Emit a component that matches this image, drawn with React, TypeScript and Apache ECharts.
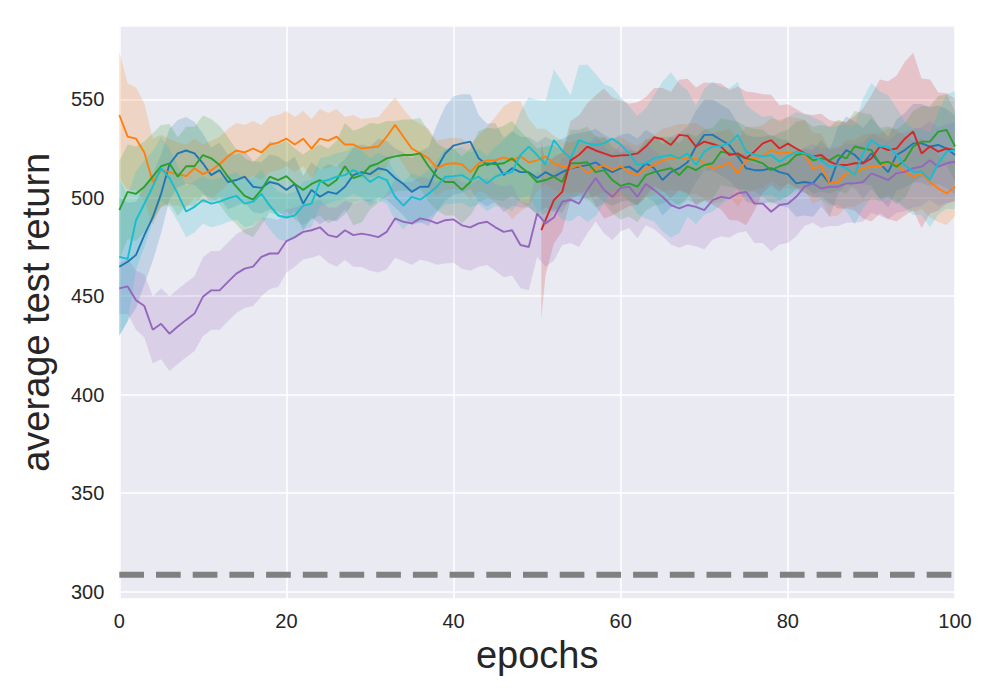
import React, { useEffect, useRef } from "react";
import * as echarts from "echarts";

// x positions: epochs 0..100
const epochs: number[] = Array.from({ length: 101 }, (_, i) => i);
const redEpochs: number[] = [50.5, ...epochs.slice(51)];

const xTicks = { min: 0, max: 100, interval: 20 };
const yRange = { min: 296.3, max: 587.4, step: 50 };
const baselineLevel = 308.6;

const blueMean = [
  465, 467.5, 471, 481, 490, 502, 517, 522.5, 524, 522.5, 517.5,
  511.5, 514, 508, 509, 510.7, 505.6, 505, 508, 507, 504,
  507, 497, 504, 500.5, 503, 502, 505.6, 511.5, 513, 512,
  515, 514, 510, 507, 503, 505.6, 505.6, 515, 522.5, 526.5,
  527.6, 528.5, 520, 516.6, 518, 511.5, 515, 513, 513, 510,
  513, 510.7, 513, 515, 515.8, 516.6, 518, 515, 513, 515,
  515.8, 513, 517.5, 515, 509, 513, 515, 518, 526, 531.9,
  531.9, 529.3, 526.8, 521, 515, 514, 514, 515, 513, 512,
  507.3, 508, 507.3, 512.4, 507.3, 519, 524.2, 521.7, 517.5, 522.5,
  517.5, 513, 521.7, 524.2, 527.6, 527.6, 526, 526.8, 525, 521.7,
];
const blueSpread = [
  35, 30, 27, 25, 22, 20, 18, 17, 17, 16, 15,
  14, 14, 14, 13, 13, 13, 13, 14, 14, 14,
  14, 14, 14, 14, 14, 14, 14, 14, 14, 14,
  15, 15, 15, 16, 17, 18, 20, 22, 24, 25,
  25, 24, 22, 21, 20, 19, 19, 18, 18, 18,
  18, 18, 17, 17, 17, 17, 17, 17, 17, 17,
  17, 17, 17, 17, 18, 18, 18, 18, 18, 18,
  18, 18, 18, 17, 17, 17, 17, 17, 17, 17,
  17, 17, 17, 17, 17, 17, 17, 17, 18, 18,
  18, 18, 18, 19, 20, 20, 20, 20, 20, 20,
];

const orangeMean = [
  542, 531, 530, 523, 508, 514, 513, 512, 511, 515, 512,
  514, 517, 521, 524, 523, 525, 523, 527, 528, 530,
  527, 530, 525, 530, 529, 531, 527, 527, 525, 525.5,
  526, 531, 537, 531, 525, 522.5, 520, 515, 517, 517.5,
  517, 513, 517.5, 519, 519, 520.5, 519, 521, 518, 519,
  521, 517.5, 516, 515, 516.6, 512.4, 515, 516.6, 514, 516,
  513, 511.5, 515, 516.6, 519, 520, 520.5, 519.5, 520, 517.5,
  515, 515.8, 518, 512.4, 519, 520, 521, 524.2, 522.5, 523,
  522.5, 521.7, 515, 515.8, 507.3, 508, 512.4, 512.4, 515, 515.8,
  515.8, 518.3, 516.6, 513.2, 510.7, 512.4, 508, 504.7, 502.2, 505.6,
];
const orangeSpread = [
  32, 27, 26, 25, 22, 18, 17, 16, 16, 15, 15,
  15, 14, 14, 14, 14, 14, 14, 14, 14, 14,
  14, 14, 15, 15, 14, 14, 14, 15, 15, 15,
  15, 15, 14, 14, 15, 15, 15, 14, 13, 13,
  13, 14, 14, 17, 22, 26, 30, 28, 22, 16,
  14, 14, 13, 13, 13, 14, 14, 14, 15, 15,
  15, 15, 15, 15, 16, 16, 17, 18, 18, 18,
  18, 18, 17, 17, 17, 16, 16, 16, 17, 18,
  18, 18, 18, 17, 17, 17, 17, 17, 17, 17,
  17, 17, 18, 18, 18, 18, 18, 17, 16, 15,
];

const greenMean = [
  493.7, 503, 502, 505.6, 510.7, 516, 517.5, 510.7, 516, 516, 521.7,
  520, 516.6, 510.7, 505.6, 501, 499, 504, 510.7, 509, 511,
  507, 504, 507, 509, 506, 509, 516, 510, 511.5, 516,
  517.5, 520, 521, 521.7, 521.7, 522.5, 516, 510.7, 508, 508,
  504, 508, 515.8, 517.5, 517, 517.5, 520, 515.8, 512.4, 508,
  509, 510.7, 508, 517.5, 517.5, 518, 513, 514, 509, 506,
  507.3, 505.6, 511.5, 513, 514, 515, 511.5, 516, 514, 516.6,
  517.5, 523.4, 522.5, 521.7, 520, 519, 517.5, 514, 516, 517.5,
  521.7, 522.5, 519, 520, 519, 521.7, 520, 526, 525, 524.2,
  517.5, 518.3, 515.8, 519, 526, 528.5, 528.5, 533.6, 534.4, 526,
];
const greenSpread = [
  25, 24, 24, 23, 22, 21, 20, 20, 20, 20, 20,
  20, 20, 20, 19, 19, 19, 18, 18, 18, 18,
  18, 18, 18, 18, 19, 20, 22, 24, 24, 22,
  20, 19, 18, 18, 18, 18, 18, 17, 17, 17,
  17, 17, 18, 18, 18, 19, 19, 18, 17, 17,
  17, 16, 16, 17, 17, 18, 18, 17, 17, 17,
  17, 18, 18, 17, 17, 16, 16, 17, 17, 18,
  18, 17, 17, 17, 16, 16, 17, 17, 17, 17,
  17, 17, 17, 17, 17, 18, 18, 18, 18, 18,
  18, 18, 19, 19, 18, 18, 18, 18, 18, 18,
];

const redMean = [
  483.6,
  488.6, 498.8, 503, 519, 521.7, 526, 524, 522.5, 521, 521.5,
  521.7, 522.5, 526, 530.7, 529.7, 526.8, 531.9, 531.4, 526, 528.5,
  527.3, 526, 521.7, 522.5, 520, 523.4, 527.6, 529.3, 525, 527.5,
  525, 522.5, 521, 521.7, 518.3, 516.6, 516.6, 517.5, 517.5, 520,
  526, 524.2, 525, 530, 533.6, 522.5, 526, 523.4, 525, 524.2,
];
const redSpread = [
  45,
  28, 22, 20, 20, 20, 22, 28, 33, 30, 28,
  26, 26, 25, 25, 26, 27, 28, 29, 30, 30,
  31, 32, 33, 34, 34, 30, 25, 23, 22, 20,
  20, 20, 21, 21, 21, 22, 22, 24, 28, 32,
  34, 35, 37, 39, 40, 38, 34, 30, 28, 26,
];

const purpleMean = [
  454, 455, 448, 445, 433, 436, 431, 434.6, 438, 441.2, 449.7,
  453, 453, 457.3, 461.5, 464, 465, 470, 471.7, 471.7, 478,
  480, 482.7, 483.5, 485, 481, 480, 483.5, 481, 481.8, 481,
  480, 482.7, 489.5, 487.8, 487, 489.5, 488.6, 487, 488.6, 489,
  486, 485, 487, 487.8, 485, 482.7, 483.5, 476, 475, 492,
  487, 490, 498, 499, 497, 504, 510, 504, 500.5, 505,
  505.6, 500.5, 507, 504, 500.5, 496.3, 494.6, 496.3, 495.4, 493.7,
  498.8, 500.5, 499.7, 502.2, 503, 497, 497, 492.9, 496.3, 497,
  500.5, 505.6, 507.3, 504.7, 505.6, 505.6, 507.3, 507.3, 508, 512.4,
  510.7, 509, 512.4, 513.2, 515, 515.8, 519, 515.8, 517.5, 518.3,
];
const purpleSpread = [
  13, 14, 15, 16, 17, 18, 19, 19, 19, 19, 20,
  20, 20, 20, 20, 20, 20, 20, 18, 17, 16,
  15, 14, 14, 14, 14, 15, 15, 16, 17, 18,
  18, 19, 20, 20, 21, 21, 21, 21, 22, 22,
  22, 22, 22, 22, 22, 23, 23, 22, 22, 22,
  22, 22, 22, 22, 22, 22, 22, 22, 22, 22,
  21, 21, 21, 20, 20, 20, 20, 20, 20, 20,
  20, 20, 20, 20, 20, 20, 20, 20, 20, 20,
  20, 20, 20, 20, 20, 20, 20, 20, 20, 20,
  20, 20, 20, 20, 20, 20, 20, 20, 20, 20,
];

const cyanMean = [
  470, 469, 488.6, 497, 505.6, 515, 510, 502, 493, 495.4, 498.8,
  497, 498, 499.7, 501, 497, 498, 502, 496, 491, 490,
  491, 496, 497, 508, 509, 510.7, 511.5, 514, 512, 508,
  510.7, 509, 500.5, 496, 500.5, 499, 502, 505.6, 510.7, 511,
  511.5, 509, 510.7, 507.3, 510.7, 512.4, 513, 521.7, 526, 521.7,
  517, 529.3, 524, 520, 529.3, 527.6, 526.8, 527.6, 530, 527,
  522.5, 516.6, 517.5, 520, 521, 521.7, 520, 522.5, 516.6, 523.4,
  526, 526.3, 527.6, 531.9, 523.4, 521.7, 521, 521.7, 518.3, 521,
  523.4, 522.5, 521, 519, 515.8, 516.6, 515, 511.5, 522.5, 529.3,
  526, 526, 521.7, 516.6, 513.2, 513.2, 509, 517.5, 523.4, 524.2,
];
const cyanSpread = [
  40, 32, 25, 22, 18, 16, 15, 14, 13, 13, 12,
  12, 12, 12, 12, 12, 12, 12, 12, 12, 12,
  12, 12, 12, 12, 12, 12, 12, 12, 12, 12,
  12, 12, 12, 12, 12, 12, 12, 13, 14, 14,
  14, 14, 14, 14, 15, 17, 20, 22, 25, 28,
  32, 36, 35, 32, 38, 40, 36, 30, 26, 24,
  24, 25, 28, 32, 38, 42, 38, 32, 30, 32,
  33, 30, 28, 27, 24, 22, 20, 20, 20, 20,
  20, 20, 20, 20, 20, 20, 22, 25, 28, 29,
  28, 26, 24, 22, 22, 22, 24, 26, 29, 30,
];

type Run = { name: string; color: string; xs: number[]; mean: number[]; spread: number[] };

const runs: Run[] = [
  { name: "blue", color: "#1f77b4", xs: epochs, mean: blueMean, spread: blueSpread },
  { name: "orange", color: "#ff7f0e", xs: epochs, mean: orangeMean, spread: orangeSpread },
  { name: "green", color: "#2ca02c", xs: epochs, mean: greenMean, spread: greenSpread },
  { name: "red", color: "#d62728", xs: redEpochs, mean: redMean, spread: redSpread },
  { name: "purple", color: "#9467bd", xs: epochs, mean: purpleMean, spread: purpleSpread },
  { name: "cyan", color: "#17becf", xs: epochs, mean: cyanMean, spread: cyanSpread },
];

const FONT = "'Liberation Sans', Arial, sans-serif";
const TEXT = "#262626";

function bandSeries(run: Run): any {
  const rows = run.xs.map((x, i) => [x, run.mean[i] - run.spread[i], run.mean[i] + run.spread[i]]);
  return {
    type: "custom",
    name: run.name + " band",
    silent: true,
    z: 1,
    encode: { x: 0, y: [1, 2] },
    data: rows,
    renderItem: (params: any, api: any) => {
      if (params.dataIndex !== 0) return null;
      const upper = rows.map((r) => api.coord([r[0], r[2]]));
      const lower = rows.map((r) => api.coord([r[0], r[1]])).reverse();
      return {
        type: "polygon",
        shape: { points: upper.concat(lower) },
        style: { fill: run.color, opacity: 0.2 },
      };
    },
  };
}

function lineSeries(run: Run): any {
  return {
    type: "line",
    name: run.name,
    z: 3,
    showSymbol: false,
    symbol: "none",
    data: run.xs.map((x, i) => [x, run.mean[i]]),
    lineStyle: { color: run.color, width: 1.9 },
    itemStyle: { color: run.color },
  };
}

export default function App() {
  const ref = useRef<HTMLDivElement>(null);
  useEffect(() => {
    if (!ref.current) return;
    const chart = echarts.init(ref.current, undefined, { renderer: "svg" });
    chart.setOption({
      animation: false,
      backgroundColor: "#ffffff",
      textStyle: { fontFamily: FONT },
      grid: {
        left: 119.3,
        right: 45,
        top: 25.6,
        bottom: 101,
        show: true,
        backgroundColor: "#EAEAF2",
        borderWidth: 0,
      },
      xAxis: {
        type: "value",
        min: xTicks.min,
        max: xTicks.max,
        interval: xTicks.interval,
        name: "epochs",
        nameLocation: "middle",
        nameGap: 32,
        nameTextStyle: { fontSize: 38, color: TEXT, fontFamily: FONT },
        axisLine: { show: false },
        axisTick: { show: false },
        axisLabel: { fontSize: 20, color: TEXT, margin: 12, fontFamily: FONT },
        splitLine: { show: true, lineStyle: { color: "#ffffff", width: 1.5 } },
      },
      yAxis: {
        type: "value",
        min: yRange.min,
        max: yRange.max,
        minInterval: yRange.step,
        maxInterval: yRange.step,
        name: "average test return",
        nameLocation: "middle",
        nameGap: 64,
        nameTextStyle: { fontSize: 38, color: TEXT, fontFamily: FONT },
        axisLine: { show: false },
        axisTick: { show: false },
        axisLabel: {
          fontSize: 20,
          color: TEXT,
          margin: 15,
          fontFamily: FONT,
          showMinLabel: false,
          showMaxLabel: false,
        },
        splitLine: { show: true, lineStyle: { color: "#ffffff", width: 1.5 } },
      },
      series: [
        ...runs.map(bandSeries),
        ...runs.map(lineSeries),
        {
          type: "line",
          name: "baseline",
          z: 4,
          showSymbol: false,
          symbol: "none",
          data: [
            [xTicks.min, baselineLevel],
            [xTicks.max, baselineLevel],
          ],
          lineStyle: { color: "#808080", width: 6, type: [24.7, 12], cap: "butt" },
        },
      ],
    });
    return () => chart.dispose();
  }, []);
  return (
    <div
      ref={ref}
      style={{ position: "fixed", left: 0, top: 0, width: 1000, height: 700 }}
    />
  );
}
